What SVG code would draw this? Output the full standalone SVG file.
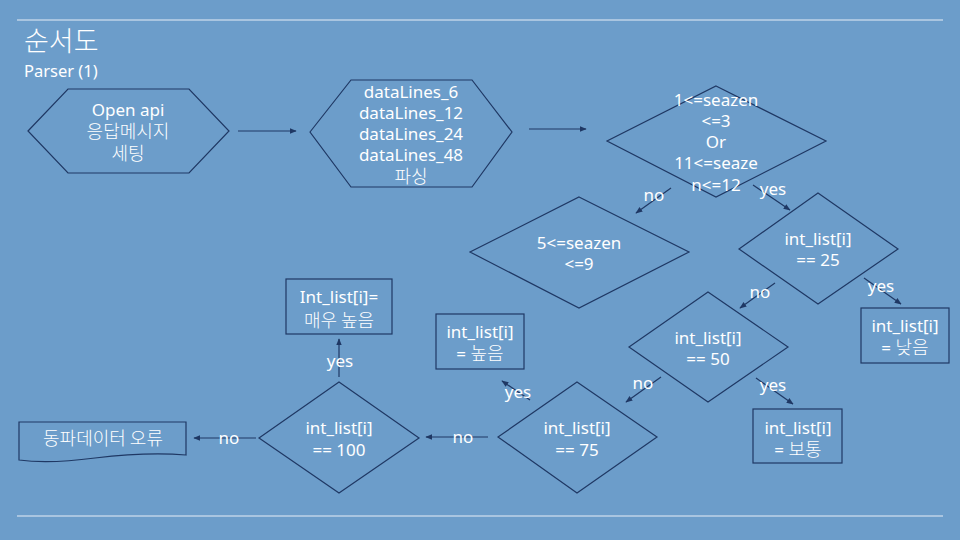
<svg xmlns="http://www.w3.org/2000/svg" width="960" height="540" viewBox="0 0 960 540">
<defs>
<marker id="ah" viewBox="0 0 10 10" refX="9" refY="5" markerWidth="7" markerHeight="7" orient="auto" markerUnits="userSpaceOnUse"><path d="M0,1 L10,5 L0,9 z" fill="#1F3864"/></marker>
<style>
.n{fill:none;stroke:#1F3864;stroke-width:1.2}
.c{stroke:#1F3864;stroke-width:1.2;fill:none;marker-end:url(#ah)}
text{font-family:"Noto Sans","Noto Sans CJK KR",sans-serif;fill:#FFFFFF;text-anchor:middle;font-size:17px}
.k{font-size:18px;font-family:"Noto Sans CJK KR",sans-serif;font-weight:300}
.l{font-size:17px}
</style>
</defs>
<rect width="960" height="540" fill="#6C9DCA"/>
<line x1="17" y1="20" x2="943" y2="20" stroke="#E6EDF5" stroke-width="1.2"/>
<line x1="17" y1="516" x2="943" y2="516" stroke="#E6EDF5" stroke-width="1.2"/>
<text x="24" y="51" style="text-anchor:start;font-size:27px;font-family:'Noto Sans CJK KR',sans-serif;font-weight:300">순서도</text>
<text x="24" y="77" style="text-anchor:start;font-size:16.5px">Parser (1)</text>

<g id="connectors">
<line class="c" x1="238" y1="131" x2="296" y2="131"/>
<line class="c" x1="529" y1="129" x2="586" y2="129"/>
<line class="c" x1="671" y1="188" x2="636" y2="213"/>
<line class="c" x1="753" y1="185" x2="790" y2="210"/>
<line class="c" x1="775" y1="283" x2="740" y2="308"/>
<line class="c" x1="864" y1="278" x2="901" y2="304"/>
<line class="c" x1="661" y1="377" x2="626" y2="402"/>
<line class="c" x1="756" y1="378" x2="793" y2="404"/>
<line class="c" x1="530" y1="400" x2="502" y2="381"/>
<line class="c" x1="488" y1="437" x2="426" y2="437"/>
<line class="c" x1="339" y1="377" x2="339" y2="339"/>
<line class="c" x1="256" y1="438" x2="194" y2="438"/>
<text class="l" x="654" y="201">no</text>
<text class="l" x="773" y="195">yes</text>
<text class="l" x="760" y="298">no</text>
<text class="l" x="881" y="292">yes</text>
<text class="l" x="643" y="389">no</text>
<text class="l" x="773" y="391">yes</text>
<text class="l" x="518" y="398">yes</text>
<text class="l" x="463" y="443">no</text>
<text class="l" x="340" y="367">yes</text>
<text class="l" x="229" y="444">no</text>
</g>

<g id="n_openapi">
<polygon class="n" points="28,131 68,89 189,89 229,131 189,173 68,173"/>
<text x="128" y="116">Open api</text>
<text class="k" x="128" y="138">응답메시지</text>
<text class="k" x="128" y="160">세팅</text>
</g>
<g id="n_parse">
<polygon class="n" points="310,132 351,80 472,80 512,132 472,187 351,187"/>
<text x="411" y="98">dataLines_6</text>
<text x="411" y="119">dataLines_12</text>
<text x="411" y="140">dataLines_24</text>
<text x="411" y="161">dataLines_48</text>
<text class="k" x="411" y="183">파싱</text>
</g>
<g id="n_season1">
<polygon class="n" points="716,86 826,141 716,197 607,141"/>
<text x="716" y="106">1&lt;=seazen</text>
<text x="716" y="127">&lt;=3</text>
<text x="716" y="148">Or</text>
<text x="716" y="169">11&lt;=seaze</text>
<text x="716" y="191">n&lt;=12</text>
</g>
<g id="n_season2">
<polygon class="n" points="579,197 689,252 579,308 470,252"/>
<text x="579" y="249">5&lt;=seazen</text>
<text x="579" y="270">&lt;=9</text>
</g>
<g id="n_d25">
<polygon class="n" points="818,193 898,249 818,304 739,249"/>
<text x="818" y="245">int_list[i]</text>
<text x="818" y="266">== 25</text>
</g>
<g id="n_low">
<rect class="n" x="861" y="308" width="88" height="55"/>
<text x="905" y="332">int_list[i]</text>
<text x="905" y="354">= <tspan class="k">낮음</tspan></text>
</g>
<g id="n_d50">
<polygon class="n" points="708,292 788,347 708,402 629,347"/>
<text x="708" y="344">int_list[i]</text>
<text x="708" y="365">== 50</text>
</g>
<g id="n_normal">
<rect class="n" x="753" y="409" width="89" height="54"/>
<text x="798" y="434">int_list[i]</text>
<text x="798" y="456">= <tspan class="k">보통</tspan></text>
</g>
<g id="n_d75">
<polygon class="n" points="577,382 657,437 577,493 498,437"/>
<text x="577" y="434">int_list[i]</text>
<text x="577" y="456">== 75</text>
</g>
<g id="n_high">
<rect class="n" x="436" y="314" width="88" height="55"/>
<text x="480" y="338">int_list[i]</text>
<text x="480" y="360">= <tspan class="k">높음</tspan></text>
</g>
<g id="n_d100">
<polygon class="n" points="339,382 419,438 339,493 259,438"/>
<text x="339" y="434">int_list[i]</text>
<text x="339" y="456">== 100</text>
</g>
<g id="n_veryhigh">
<rect class="n" x="286" y="279" width="106" height="55"/>
<text x="339" y="303">Int_list[i]=</text>
<text class="k" x="339" y="327">매우 높음</text>
</g>
<g id="n_error">
<path class="n" d="M19,422 H186 V455 C150,452 120,455 95,458 C65,462 40,463 19,460 Z"/>
<text class="k" x="103" y="445">동파데이터 오류</text>
</g>
</svg>
